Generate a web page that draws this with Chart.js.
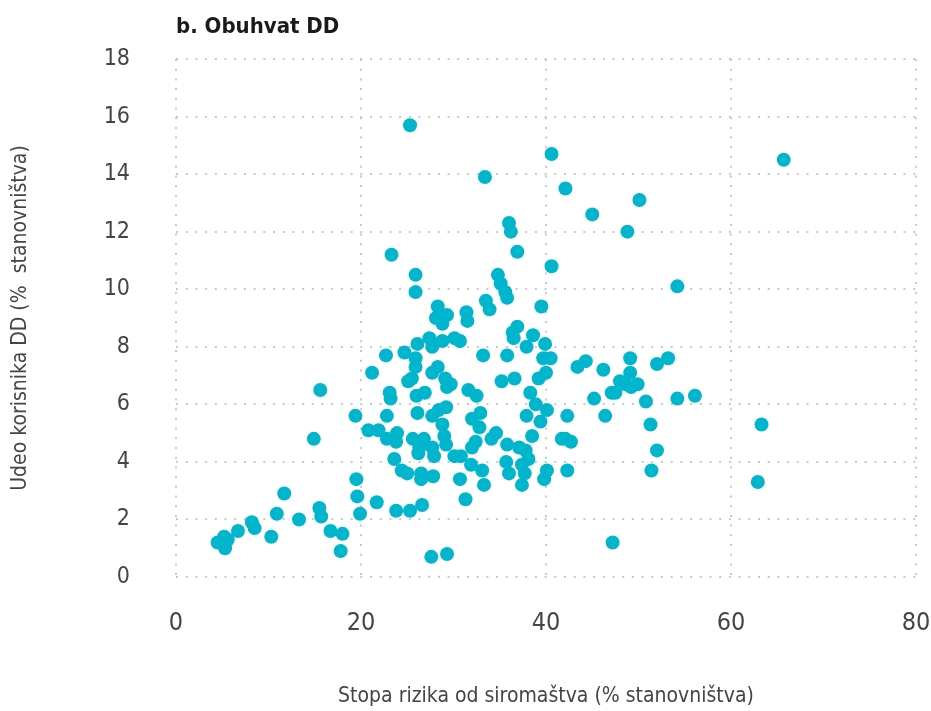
<!DOCTYPE html>
<html lang="sr">
<head>
    <meta charset="UTF-8">
    <title>Obuhvat DD</title>
    <script src="https://cdn.jsdelivr.net/npm/chart.js"></script>
    <style>
        html, body { margin: 0; padding: 0; background: #fff; }
    </style>
</head>
<body>
    <canvas id="ddChart" width="931" height="711"></canvas>
    <script>
        // stopa rizika od siromaštva (%) po opštini
        var povertyRate = [
            4.5, 5.2, 5.6, 5.3, 6.7, 8.2, 8.5, 10.3, 10.9, 11.7,
            13.3, 14.9, 15.6, 15.5, 15.7, 16.7, 17.8, 18.0, 19.4, 19.5,
            19.6, 19.9, 20.8, 21.2, 21.9, 21.7, 22.7, 22.8, 22.8, 23.3,
            23.1, 23.2, 23.6, 23.8, 23.8, 23.9, 24.4, 24.7, 25.0, 25.1,
            25.3, 25.3, 25.5, 25.6, 25.9, 25.9, 25.9, 25.9, 26.0, 26.1,
            26.1, 26.3, 26.2, 26.5, 26.5, 26.6, 26.8, 26.9, 27.4, 27.6,
            27.7, 27.7, 27.7, 27.7, 27.8, 27.9, 28.3, 28.1, 28.3, 28.4,
            28.8, 28.8, 29.1, 28.8, 29.0, 29.2, 29.2, 29.3, 29.3, 29.3,
            29.7, 30.1, 30.1, 30.8, 30.7, 30.7, 31.3, 31.4, 31.5, 31.6,
            31.9, 32.0, 32.0, 32.4, 32.5, 32.9, 32.8, 33.2, 33.1, 33.3,
            33.4, 33.5, 33.9, 34.1, 34.6, 34.8, 35.2, 35.1, 35.6, 35.7,
            35.8, 35.8, 36.0, 35.8, 36.0, 36.2, 36.4, 36.6, 36.5, 36.9,
            36.9, 37.1, 37.4, 37.4, 37.7, 37.8, 37.9, 37.9, 38.1, 38.3,
            38.5, 38.6, 38.9, 39.4, 39.5, 39.2, 39.7, 39.8, 39.9, 40.1,
            40.0, 40.1, 40.5, 40.6, 40.6, 42.1, 41.7, 42.1, 42.7, 42.3,
            42.3, 43.4, 44.3, 45.0, 45.2, 46.2, 46.4, 47.1, 47.2, 47.5,
            48.0, 48.6, 49.1, 49.1, 49.2, 49.9, 48.8, 50.1, 50.8, 51.3,
            51.4, 52.0, 52.0, 53.2, 54.2, 54.2, 56.1, 62.9, 63.3, 65.7
        ];

        // udeo korisnika DD (% stanovništva), isti redosled
        var ddShare = [
            1.2, 1.4, 1.3, 1.0, 1.6, 1.9, 1.7, 1.4, 2.2, 2.9,
            2.0, 4.8, 6.5, 2.4, 2.1, 1.6, 0.9, 1.5, 5.6, 3.4,
            2.8, 2.2, 5.1, 7.1, 5.1, 2.6, 7.7, 4.8, 5.6, 11.2,
            6.4, 6.2, 4.1, 2.3, 4.7, 5.0, 3.7, 7.8, 3.6, 6.8,
            2.3, 15.7, 6.9, 4.8, 7.6, 10.5, 9.9, 7.3, 6.3, 5.7,
            8.1, 4.5, 4.3, 3.6, 3.4, 2.5, 4.8, 6.4, 8.3, 0.7,
            8.0, 5.6, 7.1, 4.5, 3.5, 4.2, 7.3, 9.0, 9.4, 5.8,
            5.3, 8.8, 6.9, 8.2, 4.9, 4.6, 5.9, 6.6, 0.8, 9.1,
            6.7, 8.3, 4.2, 4.2, 8.2, 3.4, 2.7, 9.2, 8.9, 6.5,
            3.9, 5.5, 4.5, 4.7, 6.3, 5.7, 5.2, 7.7, 3.7, 3.2,
            13.9, 9.6, 9.3, 4.8, 5.0, 10.5, 6.8, 10.2, 9.9, 4.0,
            4.6, 7.7, 3.6, 9.7, 12.3, 12.0, 8.5, 6.9, 8.3, 8.7,
            11.3, 4.5, 3.2, 3.9, 3.6, 4.4, 5.6, 8.0, 4.1, 6.4,
            4.9, 8.4, 6.0, 5.4, 9.4, 6.9, 7.6, 3.4, 8.1, 3.7,
            7.1, 5.8, 7.6, 10.8, 14.7, 13.5, 4.8, 4.8, 4.7, 5.6,
            3.7, 7.3, 7.5, 12.6, 6.2, 7.2, 5.6, 6.4, 1.2, 6.4,
            6.8, 6.7, 7.6, 7.1, 6.6, 6.7, 12.0, 13.1, 6.1, 5.3,
            3.7, 4.4, 7.4, 7.6, 10.1, 6.2, 6.3, 3.3, 5.3, 14.5
        ];

        var xTicks = [0, 20, 40, 60, 80];
        var yTicks = [0, 2, 4, 6, 8, 10, 12, 14, 16, 18];

        var chartTitle = 'b. Obuhvat DD';
        var xTitle = 'Stopa rizika od siromaštva (% stanovništva)';
        var yTitle = 'Udeo korisnika DD (%  stanovništva)';

        var points = povertyRate.map(function(x, i) { return {x: x, y: ddShare[i]}; });

        var FONT = "'DejaVu Sans Condensed', 'Liberation Sans Narrow', sans-serif";
        var TEXT = '#454545';
        var dotted = {display: false, dash: [2, 7.7]};

        // naslov poravnat sa levom ivicom oblasti grafika
        var titlePlugin = {
            id: 'leftTitle',
            afterDraw: function(chart) {
                var c = chart.ctx;
                c.save();
                c.font = "bold 22px " + FONT;
                c.fillStyle = '#1a1a1a';
                c.textBaseline = 'middle';
                c.textAlign = 'left';
                c.fillText(chartTitle, chart.chartArea.left, 27);
                c.restore();
            }
        };

        var ctx = document.getElementById('ddChart').getContext('2d');
        var ddChart = new Chart(ctx, {
            type: 'scatter',
            data: {
                datasets: [{
                    data: points,
                    backgroundColor: '#00b5cc',
                    borderWidth: 0,
                    pointRadius: 7,
                    pointHoverRadius: 7
                }]
            },
            options: {
                responsive: false,
                animation: false,
                layout: { padding: { top: 59, right: 15, left: 0, bottom: 0 } },
                plugins: {
                    legend: { display: false },
                    tooltip: { enabled: false }
                },
                scales: {
                    x: {
                        type: 'linear',
                        min: 0,
                        max: 80,
                        afterBuildTicks: function(axis) {
                            axis.ticks = xTicks.map(function(v) { return {value: v}; });
                        },
                        afterFit: function(axis) {
                            axis.height = 134;
                            axis.paddingLeft = 0;
                            axis.paddingRight = 0;
                        },
                        grid: { color: '#c8c8c8', lineWidth: 2, drawTicks: false },
                        border: dotted,
                        ticks: {
                            padding: 31,
                            color: TEXT,
                            font: { family: FONT, size: 25 }
                        },
                        title: {
                            display: true,
                            text: xTitle,
                            color: TEXT,
                            padding: { top: 0, bottom: 2 },
                            font: { family: FONT, size: 21 }
                        }
                    },
                    y: {
                        type: 'linear',
                        min: 0,
                        max: 18,
                        afterBuildTicks: function(axis) {
                            axis.ticks = yTicks.map(function(v) { return {value: v}; });
                        },
                        afterFit: function(axis) {
                            axis.width = 176;
                            axis.paddingTop = 0;
                            axis.paddingBottom = 0;
                        },
                        grid: { color: '#c8c8c8', lineWidth: 2, drawTicks: false },
                        border: dotted,
                        ticks: {
                            padding: 46,
                            color: TEXT,
                            font: { family: FONT, size: 23 }
                        },
                        title: {
                            display: true,
                            text: yTitle,
                            color: TEXT,
                            padding: { top: 8, bottom: 0 },
                            font: { family: FONT, size: 21 }
                        }
                    }
                }
            },
            plugins: [titlePlugin]
        });
    </script>
</body>
</html>
